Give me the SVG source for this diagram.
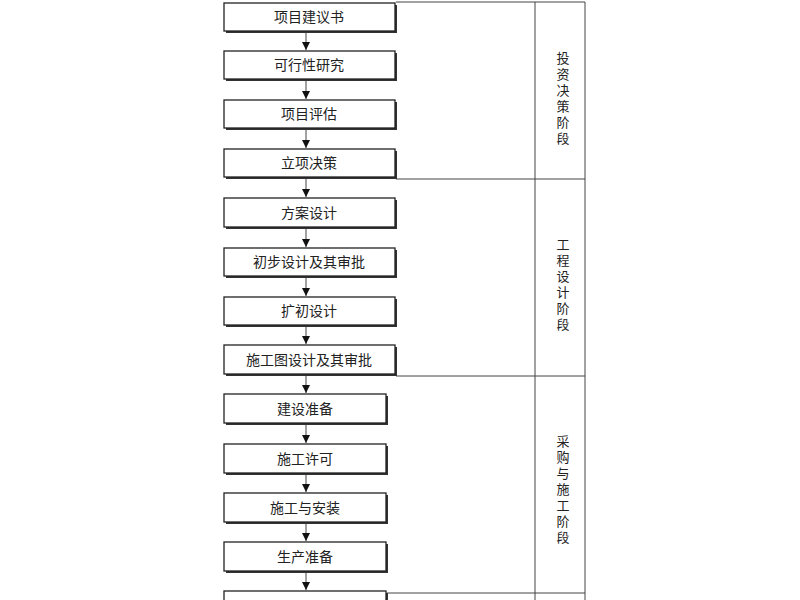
<svg xmlns="http://www.w3.org/2000/svg" width="800" height="600" viewBox="0 0 800 600">
<style>
.b{fill:#fff;stroke:#222;stroke-width:1.3}
.s{fill:#333}
.t{font-family:"Noto Sans CJK SC",serif;font-size:14px;fill:#222;text-anchor:middle}
.v{font-family:"Noto Sans CJK SC",serif;font-size:13px;fill:#222;writing-mode:vertical-rl;letter-spacing:3px}
.l{stroke:#444;stroke-width:1;fill:none}
</style>
<defs><marker id="a" viewBox="0 0 10 10" refX="10" refY="5" markerWidth="8" markerHeight="8" markerUnits="userSpaceOnUse" orient="auto"><path d="M0,0L10,5L0,10z" fill="#111"/></marker></defs>
<rect width="800" height="600" fill="#fff"/>
<g id="frame">
<path class="l" d="M396,2H585V600M535,2V600M396,179H585M396,376H585M387,593H585"/>
</g>
<g id="phases">
<text class="v" x="563" y="52">投资决策阶段</text>
<text class="v" x="563" y="238">工程设计阶段</text>
<text class="v" x="563" y="435">采购与施工阶段</text>
</g>
<g id="connectors">
<path class="l" marker-end="url(#a)" d="M306,33V50"/>
<path class="l" marker-end="url(#a)" d="M306,81V99"/>
<path class="l" marker-end="url(#a)" d="M306,130V148"/>
<path class="l" marker-end="url(#a)" d="M306,179V197"/>
<path class="l" marker-end="url(#a)" d="M306,229V247"/>
<path class="l" marker-end="url(#a)" d="M306,278V296"/>
<path class="l" marker-end="url(#a)" d="M306,327V344"/>
<path class="l" marker-end="url(#a)" d="M306,376V393"/>
<path class="l" marker-end="url(#a)" d="M306,425V443"/>
<path class="l" marker-end="url(#a)" d="M306,475V492"/>
<path class="l" marker-end="url(#a)" d="M306,524V541"/>
<path class="l" marker-end="url(#a)" d="M306,573V590"/>
</g>
<g id="n1"><rect class="s" x="226" y="5" width="171" height="28"/><rect class="b" x="224" y="3" width="171" height="28"/><text class="t" x="309" y="22">项目建议书</text></g>
<g id="n2"><rect class="s" x="226" y="53" width="171" height="28"/><rect class="b" x="224" y="51" width="171" height="28"/><text class="t" x="309" y="70">可行性研究</text></g>
<g id="n3"><rect class="s" x="226" y="102" width="171" height="28"/><rect class="b" x="224" y="100" width="171" height="28"/><text class="t" x="309" y="119">项目评估</text></g>
<g id="n4"><rect class="s" x="226" y="151" width="171" height="28"/><rect class="b" x="224" y="149" width="171" height="28"/><text class="t" x="309" y="168">立项决策</text></g>
<g id="n5"><rect class="s" x="226" y="200" width="171" height="29"/><rect class="b" x="224" y="198" width="171" height="29"/><text class="t" x="309" y="218">方案设计</text></g>
<g id="n6"><rect class="s" x="226" y="250" width="171" height="28"/><rect class="b" x="224" y="248" width="171" height="28"/><text class="t" x="309" y="267">初步设计及其审批</text></g>
<g id="n7"><rect class="s" x="226" y="299" width="171" height="28"/><rect class="b" x="224" y="297" width="171" height="28"/><text class="t" x="309" y="316">扩初设计</text></g>
<g id="n8"><rect class="s" x="226" y="347" width="171" height="29"/><rect class="b" x="224" y="345" width="171" height="29"/><text class="t" x="309" y="365">施工图设计及其审批</text></g>
<g id="n9"><rect class="s" x="226" y="396" width="162" height="29"/><rect class="b" x="224" y="394" width="162" height="29"/><text class="t" x="305" y="414">建设准备</text></g>
<g id="n10"><rect class="s" x="226" y="446" width="162" height="29"/><rect class="b" x="224" y="444" width="162" height="29"/><text class="t" x="305" y="464">施工许可</text></g>
<g id="n11"><rect class="s" x="226" y="495" width="162" height="29"/><rect class="b" x="224" y="493" width="162" height="29"/><text class="t" x="305" y="513">施工与安装</text></g>
<g id="n12"><rect class="s" x="226" y="544" width="162" height="29"/><rect class="b" x="224" y="542" width="162" height="29"/><text class="t" x="305" y="562">生产准备</text></g>
<g id="n13"><rect class="s" x="226" y="593" width="162" height="29"/><rect class="b" x="224" y="591" width="162" height="29"/></g>
</svg>
